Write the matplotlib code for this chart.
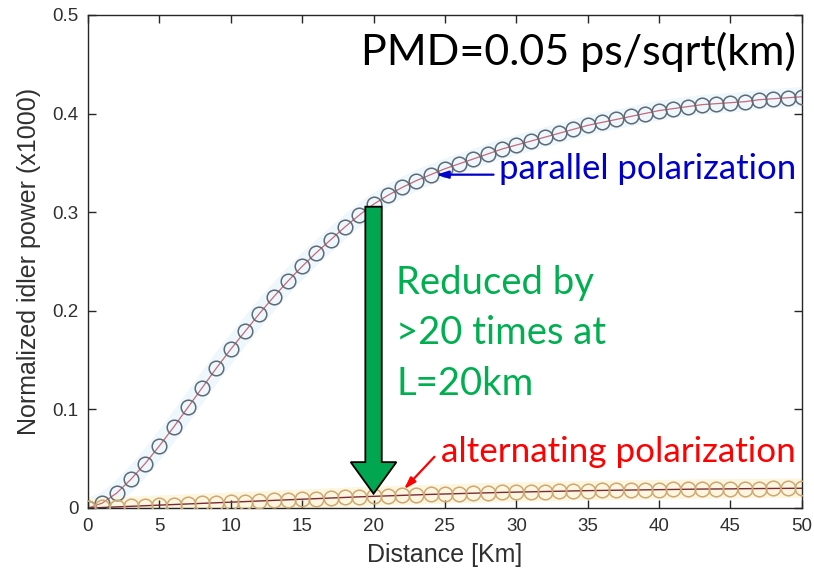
import matplotlib
matplotlib.use("Agg")
import matplotlib.pyplot as plt

distance_km = list(range(0, 51))
parallel = [0.000, 0.005, 0.015, 0.029, 0.045, 0.063, 0.082, 0.102, 0.122, 0.142,
            0.161, 0.179, 0.197, 0.214, 0.230, 0.245, 0.259, 0.272, 0.285, 0.297,
            0.308, 0.317, 0.325, 0.332, 0.338, 0.344, 0.349, 0.354, 0.359, 0.364,
            0.368, 0.372, 0.376, 0.380, 0.384, 0.388, 0.391, 0.394, 0.397, 0.400,
            0.403, 0.405, 0.407, 0.409, 0.410, 0.411, 0.412, 0.414, 0.415, 0.416,
            0.417]
alternating = [0.0000, 0.0005, 0.0011, 0.0017, 0.0023, 0.0029, 0.0035, 0.0041, 0.0047, 0.0053,
               0.0059, 0.0065, 0.0071, 0.0077, 0.0083, 0.0089, 0.0095, 0.0101, 0.0107, 0.0113,
               0.0118, 0.0123, 0.0128, 0.0133, 0.0138, 0.0142, 0.0146, 0.0150, 0.0154, 0.0158,
               0.0161, 0.0164, 0.0167, 0.0170, 0.0173, 0.0176, 0.0178, 0.0180, 0.0182, 0.0184,
               0.0186, 0.0188, 0.0190, 0.0192, 0.0193, 0.0194, 0.0196, 0.0197, 0.0198, 0.0199,
               0.0200]
x_ticks = [0, 5, 10, 15, 20, 25, 30, 35, 40, 45, 50]
y_ticks = [0, 0.1, 0.2, 0.3, 0.4, 0.5]
y_tick_labels = ["0", "0.1", "0.2", "0.3", "0.4", "0.5"]
green_lines = ["Reduced by", ">20 times at", "L=20km"]
green_baselines = [0.217, 0.166, 0.115]

fig = plt.figure(figsize=(8.14, 5.87), dpi=100)
ax = fig.add_axes([0.1081, 0.1346, 0.877, 0.840])

# faint halo like the reference
ax.plot(distance_km, parallel, color="#eef7fc", lw=14, solid_capstyle="round", zorder=1)
ax.plot(distance_km, alternating, color="#fcf6de", lw=14, solid_capstyle="round", zorder=1)

ax.plot(distance_km, parallel, color="#c46a7a", lw=0.9, zorder=2)
ax.plot(distance_km, parallel, ls="none", marker="o", ms=10.5, mfc="none",
        mec="#5f6a74", mew=1.1, zorder=3)
ax.plot(distance_km, alternating, color="#7a2a3a", lw=1.0, zorder=2)
ax.plot(distance_km, alternating, ls="none", marker="o", ms=10.5, mfc="none",
        mec="#cda874", mew=1.1, zorder=3)

ax.set_xlim(0, 50)
ax.set_ylim(0, 0.5)
ax.set_xticks(x_ticks)
ax.set_yticks(y_ticks)
ax.set_yticklabels(y_tick_labels)
ax.tick_params(direction="in", length=6, width=1, top=True, right=True,
               labelsize=13.5, labelcolor="#303030", color="#262626", pad=7)
for s in ax.spines.values():
    s.set_color("#262626")
    s.set_linewidth(1.0)

ax.set_xlabel("Distance [Km]", fontsize=18, color="#303030", labelpad=6,
              family="Liberation Sans")
ax.set_ylabel("Normalized idler power (x1000)", fontsize=18, color="#303030",
              labelpad=8, family="Liberation Sans")
for lab in ax.get_xticklabels() + ax.get_yticklabels():
    lab.set_family("Liberation Sans")

tfont = "Lato"
ax.text(49.6, 0.462, "PMD=0.05 ps/sqrt(km)", fontsize=31, family=tfont,
        color="black", ha="right", va="center", zorder=6)

ax.text(49.6, 0.344, "parallel polarization", fontsize=25, family=tfont,
        color="#0000cc", ha="right", va="center", zorder=6)
ax.annotate("", xy=(24.2, 0.338), xytext=(28.6, 0.338),
            arrowprops=dict(arrowstyle="-|>,head_length=0.7,head_width=0.22",
                            color="#0000cc", lw=1.6), zorder=6)

ax.text(49.6, 0.057, "alternating polarization", fontsize=25.2, family=tfont,
        color="#ff0000", ha="right", va="center", zorder=6)
ax.annotate("", xy=(22.0, 0.017), xytext=(24.4, 0.054),
            arrowprops=dict(arrowstyle="-|>,head_length=0.7,head_width=0.22",
                            color="#ff0000", lw=1.6), zorder=6)

ax.arrow(20, 0.3055, 0, -(0.3055 - 0.0145), width=1.15, head_width=3.2,
         head_length=0.032, length_includes_head=True, fc="#00a650",
         ec="black", lw=1.3, zorder=5)

for line, yb in zip(green_lines, green_baselines):
    ax.text(21.6, yb, line, fontsize=27.5, family=tfont, color="#00b050",
            ha="left", va="baseline", zorder=6)

fig.savefig("out.png", dpi=100)
